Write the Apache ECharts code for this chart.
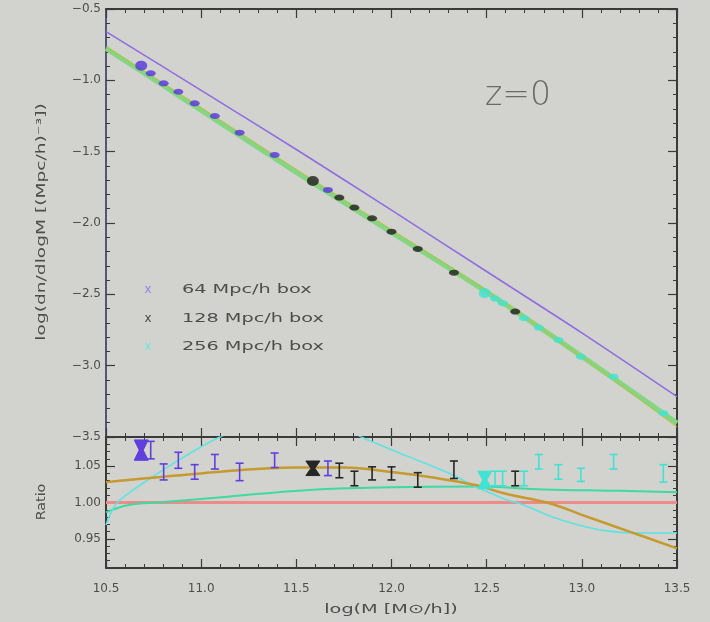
<!DOCTYPE html>
<html><head><meta charset="utf-8">
<script src="https://cdn.jsdelivr.net/npm/echarts@6/dist/echarts.min.js"></script>
<style>html,body{margin:0;padding:0;background:#d2d2ce}#c{width:710px;height:622px}</style>
</head><body><div id="c"></div>
<script>
// ---------- axis ticks ----------
const xTicks = [10.5, 11.0, 11.5, 12.0, 12.5, 13.0, 13.5];
const topTicks = [-3.5, -3.0, -2.5, -2.0, -1.5, -1.0, -0.5];
const ratioTicks = [0.95, 1.00, 1.05];

// ---------- fits (top panel) ----------
const fitMass   = [10.5, 11.0, 11.5, 12.0, 12.5, 13.0, 13.5];
const purpleFit = [-0.659, -1.070, -1.485, -1.910, -2.340, -2.770, -3.217];
const greenFit  = [-0.776, -1.210, -1.645, -2.065, -2.485, -2.935, -3.403];
const orangeFit = [-0.764, -1.193, -1.625, -2.048, -2.475, -2.940, -3.430];

// ---------- simulations: log M, log dn/dlogM ----------
const box64Mass  = [10.685, 10.735, 10.803, 10.880, 10.966, 11.072, 11.202, 11.386, 11.666];
const box64LogN  = [-0.897, -0.951, -1.021, -1.080, -1.161, -1.250, -1.367, -1.523, -1.768];
const box128Mass = [11.587, 11.726, 11.805, 11.898, 12.000, 12.138, 12.328, 12.650];
const box128LogN = [-1.705, -1.822, -1.892, -1.967, -2.061, -2.182, -2.348, -2.621];
const box256Mass = [12.490, 12.544, 12.584, 12.696, 12.774, 12.877, 12.995, 13.167, 13.428];
const box256LogN = [-2.492, -2.530, -2.562, -2.667, -2.733, -2.820, -2.937, -3.077, -3.333];

// ---------- ratio panel ----------
const box64Ratio  = [1.072, 1.072, 1.042, 1.058, 1.042, 1.056, 1.042, 1.058, 1.047];
const box64Err    = [0.014, 0.012, 0.011, 0.011, 0.010, 0.010, 0.012, 0.010, 0.010];
const box128Ratio = [1.047, 1.044, 1.033, 1.040, 1.040, 1.031, 1.045, 1.033];
const box128Err   = [0.010, 0.010, 0.010, 0.009, 0.009, 0.010, 0.012, 0.010];
const box256Ratio = [1.031, 1.033, 1.033, 1.033, 1.056, 1.042, 1.038, 1.056, 1.040];
const box256Err   = [0.012, 0.010, 0.010, 0.010, 0.010, 0.010, 0.009, 0.010, 0.012];

const orangeRatioMass = [10.5, 11.0, 11.5, 11.75, 12.0, 12.2, 12.44, 12.6, 12.83, 13.0, 13.25, 13.5];
const orangeRatio     = [1.028, 1.040, 1.048, 1.048, 1.042, 1.035, 1.024, 1.012, 0.999, 0.983, 0.960, 0.937];
const greenRatioMass  = [10.5, 10.62, 10.79, 11.14, 11.546, 12.0, 12.44, 12.8, 13.2, 13.5];
const greenRatio      = [0.9865, 0.9966, 1.0003, 1.008, 1.017, 1.021, 1.022, 1.018, 1.016, 1.014];
const cyanRatioMass   = [10.5, 10.55, 10.62, 10.72, 10.9, 11.09, 11.3, 11.5, 11.7, 11.85, 12.1, 12.32, 12.44, 12.52, 12.6, 12.69, 12.87, 13.13, 13.34, 13.5];
const cyanRatio       = [0.969, 0.997, 1.013, 1.031, 1.061, 1.089, 1.11, 1.118, 1.108, 1.089, 1.062, 1.038, 1.022, 1.013, 1.004, 0.997, 0.978, 0.961, 0.958, 0.958];
const unityMass  = [10.5, 13.5];
const unityRatio = [1.0, 1.0];

// ---------- helpers ----------
const zip = (a, b) => a.map((v, i) => [v, b[i]]);
const zip3 = (a, b, c) => a.map((v, i) => [v, b[i], c[i]]);
const FONT = 'DejaVu Sans';
const TXT = '#4d4d4d';
const AX = '#3a3a3a';
const fmtMinus = v => (v < 0 ? '\u2212' : '') + Math.abs(v).toFixed(1);

function xAxisDef(grid, pos, labels) {
  return {
    type: 'value', gridIndex: grid, position: pos, min: 10.5, max: 13.5, interval: 0.5,
    axisLine: { lineStyle: { color: AX, width: 2 } },
    axisTick: { show: true, inside: true, length: 9, lineStyle: { color: AX, width: 1.2 } },
    minorTick: { show: true, splitNumber: 5, length: 4, lineStyle: { color: AX, width: 1 } },
    splitLine: { show: false }, minorSplitLine: { show: false },
    axisLabel: labels ? { show: true, color: TXT, fontFamily: FONT, fontSize: 12, margin: 15, formatter: v => v.toFixed(1) } : { show: false }
  };
}

function errRender(color) {
  return function (params, api) {
    const x = api.value(0), y = api.value(1), e = api.value(2);
    const t = api.coord([x, y + e]);
    const b = api.coord([x, y - e]);
    const m = api.coord([x, y]);
    if (params.dataIndex === 0) {
      const hw = 7;
      return {
        type: 'polygon',
        shape: { points: [[t[0] - hw, t[1]], [t[0] + hw, t[1]], [m[0] + 2, m[1]], [b[0] + hw, b[1]], [b[0] - hw, b[1]], [m[0] - 2, m[1]]] },
        style: { fill: color, stroke: color, lineWidth: 1 }
      };
    }
    const hw = 4;
    return {
      type: 'group',
      children: [
        { type: 'line', shape: { x1: t[0], y1: t[1], x2: b[0], y2: b[1] }, style: { stroke: color, lineWidth: 1.6 } },
        { type: 'line', shape: { x1: t[0] - hw, y1: t[1], x2: t[0] + hw, y2: t[1] }, style: { stroke: color, lineWidth: 1.6 } },
        { type: 'line', shape: { x1: b[0] - hw, y1: b[1], x2: b[0] + hw, y2: b[1] }, style: { stroke: color, lineWidth: 1.6 } }
      ]
    };
  };
}

const C64 = '#5535dd', C128 = '#1e1e1e', C256 = '#3fe3d3';
const legendFont = '13px "DejaVu Sans"';

const chart = echarts.init(document.getElementById('c'), null, { renderer: 'canvas' });
chart.setOption({
  backgroundColor: '#d2d2ce',
  animation: false,
  grid: [
    { left: 106, right: 33, top: 9, height: 428 },
    { left: 106, right: 33, top: 437, height: 131 }
  ],
  xAxis: [
    xAxisDef(0, 'bottom', false),
    xAxisDef(0, 'top', false),
    xAxisDef(1, 'bottom', true),
    xAxisDef(1, 'top', false)
  ],
  yAxis: [
    {
      type: 'value', gridIndex: 0, position: 'left', min: -3.5, max: -0.5, interval: 0.5,
      axisLine: { show: true, lineStyle: { color: '#55557a', width: 2 } },
      axisTick: { show: true, inside: true, length: 9, lineStyle: { color: AX, width: 1.2 } },
      minorTick: { show: true, splitNumber: 5, length: 4, lineStyle: { color: AX } },
      splitLine: { show: false }, minorSplitLine: { show: false },
      axisLabel: { color: TXT, fontFamily: FONT, fontSize: 12, margin: 5, formatter: fmtMinus }
    },
    {
      type: 'value', gridIndex: 0, position: 'right', min: -3.5, max: -0.5, interval: 0.5,
      axisLine: { show: true, lineStyle: { color: AX, width: 2 } },
      axisTick: { show: true, inside: true, length: 9, lineStyle: { color: AX, width: 1.2 } },
      minorTick: { show: true, splitNumber: 5, length: 4, lineStyle: { color: AX } },
      splitLine: { show: false }, axisLabel: { show: false }
    },
    {
      type: 'value', gridIndex: 1, position: 'left', min: 0.91, max: 1.09,
      axisLine: { show: true, lineStyle: { color: AX, width: 2 } },
      axisTick: { show: true, inside: true, length: 9, customValues: ratioTicks, lineStyle: { color: AX, width: 1.2 } },
      splitLine: { show: false },
      axisLabel: { color: TXT, fontFamily: FONT, fontSize: 12, margin: 5, customValues: ratioTicks, formatter: v => v.toFixed(2) }
    },
    {
      type: 'value', gridIndex: 1, position: 'left', min: 0.91, max: 1.09, interval: 0.01,
      axisLine: { show: false },
      axisTick: { show: true, inside: true, length: 4, lineStyle: { color: AX } },
      splitLine: { show: false }, axisLabel: { show: false }
    },
    {
      type: 'value', gridIndex: 1, position: 'right', min: 0.91, max: 1.09,
      axisLine: { show: true, lineStyle: { color: AX, width: 2 } },
      axisTick: { show: true, inside: true, length: 9, customValues: ratioTicks, lineStyle: { color: AX, width: 1.2 } },
      splitLine: { show: false }, axisLabel: { show: false, customValues: ratioTicks }
    },
    {
      type: 'value', gridIndex: 1, position: 'right', min: 0.91, max: 1.09, interval: 0.01,
      axisLine: { show: false },
      axisTick: { show: true, inside: true, length: 4, lineStyle: { color: AX } },
      splitLine: { show: false }, axisLabel: { show: false }
    }
  ],
  graphic: [
    { type: 'text', x: 518, y: 96, style: { text: 'z=0', fill: '#6a6a6a', font: '300 33px "DejaVu Sans"', align: 'center', verticalAlign: 'middle' } },
    { type: 'text', x: 42, y: 222, rotation: Math.PI / 2, scaleX: 1.55, style: { text: 'log(dn/dlogM [(Mpc/h)\u207B\u00B3])', fill: TXT, font: '12px "DejaVu Sans"', align: 'center', verticalAlign: 'middle' } },
    { type: 'text', x: 42, y: 502, rotation: Math.PI / 2, scaleX: 1.1, style: { text: 'Ratio', fill: TXT, font: '13px "DejaVu Sans"', align: 'center', verticalAlign: 'middle' } },
    { type: 'text', x: 391, y: 610, scaleX: 1.48, style: { text: 'log(M [M\u2299/h])', fill: TXT, font: '13px "DejaVu Sans"', align: 'center', verticalAlign: 'middle' } },
    { type: 'text', x: 148, y: 290, style: { text: 'x', fill: '#9a82e6', font: '12px "DejaVu Sans"', align: 'center', verticalAlign: 'middle' } },
    { type: 'text', x: 182, y: 290, scaleX: 1.48, style: { text: '64 Mpc/h box', fill: TXT, font: legendFont, verticalAlign: 'middle' } },
    { type: 'text', x: 148, y: 319, style: { text: 'x', fill: '#4a4a4a', font: '12px "DejaVu Sans"', align: 'center', verticalAlign: 'middle' } },
    { type: 'text', x: 182, y: 319, scaleX: 1.48, style: { text: '128 Mpc/h box', fill: TXT, font: legendFont, verticalAlign: 'middle' } },
    { type: 'text', x: 148, y: 347, style: { text: 'x', fill: '#6fe6da', font: '12px "DejaVu Sans"', align: 'center', verticalAlign: 'middle' } },
    { type: 'text', x: 182, y: 347, scaleX: 1.48, style: { text: '256 Mpc/h box', fill: TXT, font: legendFont, verticalAlign: 'middle' } }
  ],
  series: [
    { type: 'line', z: 2, xAxisIndex: 0, yAxisIndex: 0, data: zip(fitMass, purpleFit), showSymbol: false, smooth: 0.3, lineStyle: { color: '#8f6ee2', width: 1.6 } },
    { type: 'line', z: 2, xAxisIndex: 0, yAxisIndex: 0, data: zip(fitMass, greenFit), showSymbol: false, smooth: 0.3, lineStyle: { color: '#84d684', width: 5 } },
    { type: 'line', z: 3, xAxisIndex: 0, yAxisIndex: 0, data: zip(fitMass, orangeFit), showSymbol: false, smooth: 0.3, lineStyle: { color: '#b8c040', width: 1.2, opacity: 0.8 } },
    { type: 'scatter', z: 6, xAxisIndex: 0, yAxisIndex: 0, data: zip(box64Mass, box64LogN), symbol: 'circle',
      symbolSize: (v, p) => p.dataIndex === 0 ? [12, 10] : [10, 6], itemStyle: { color: C64 } },
    { type: 'scatter', z: 7, xAxisIndex: 0, yAxisIndex: 0, data: zip(box128Mass, box128LogN), symbol: 'circle',
      symbolSize: (v, p) => p.dataIndex === 0 ? [12, 10] : [10, 6], itemStyle: { color: C128 } },
    { type: 'scatter', z: 6, xAxisIndex: 0, yAxisIndex: 0, data: zip(box256Mass, box256LogN), symbol: 'circle',
      symbolSize: (v, p) => p.dataIndex === 0 ? [12, 10] : [10, 6], itemStyle: { color: C256 } },

    { type: 'line', z: 2, xAxisIndex: 2, yAxisIndex: 2, data: zip(unityMass, unityRatio), showSymbol: false, lineStyle: { color: '#ee8a8a', width: 3 } },
    { type: 'line', z: 2, xAxisIndex: 2, yAxisIndex: 2, data: zip(greenRatioMass, greenRatio), showSymbol: false, smooth: 0.4, lineStyle: { color: '#3fd9a2', width: 2 } },
    { type: 'line', z: 2, xAxisIndex: 2, yAxisIndex: 2, data: zip(cyanRatioMass, cyanRatio), showSymbol: false, smooth: 0.4, lineStyle: { color: '#5fe2e2', width: 1.6 } },
    { type: 'line', z: 3, xAxisIndex: 2, yAxisIndex: 2, data: zip(orangeRatioMass, orangeRatio), showSymbol: false, smooth: 0.4, lineStyle: { color: '#c69a2e', width: 2.5 } },
    { type: 'custom', z: 6, xAxisIndex: 2, yAxisIndex: 2, data: zip3(box64Mass, box64Ratio, box64Err), renderItem: errRender('#6040dd'), clip: true },
    { type: 'custom', z: 6, xAxisIndex: 2, yAxisIndex: 2, data: zip3(box256Mass, box256Ratio, box256Err), renderItem: errRender(C256), clip: true },
    { type: 'custom', z: 7, xAxisIndex: 2, yAxisIndex: 2, data: zip3(box128Mass, box128Ratio, box128Err), renderItem: errRender('#262626'), clip: true }
  ]
});
</script></body></html>
